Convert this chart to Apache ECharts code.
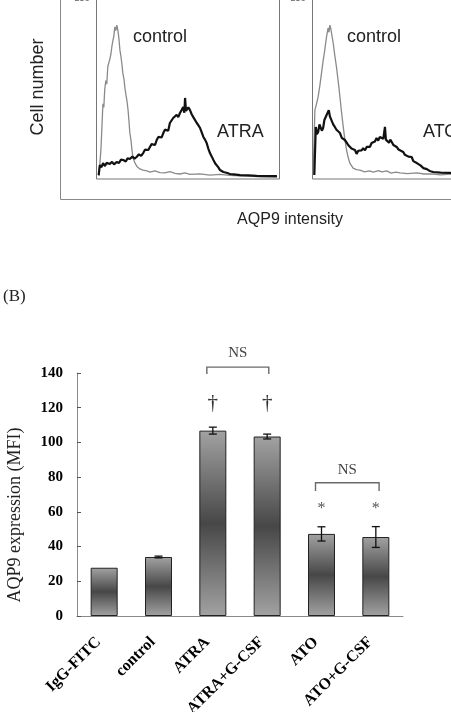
<!DOCTYPE html>
<html>
<head>
<meta charset="utf-8">
<style>
  html, body { margin: 0; padding: 0; background: #fff; }
  #chart { width: 451px; height: 712px; }
</style>
<script src="https://cdn.jsdelivr.net/npm/echarts@6.0.0/dist/echarts.min.js"></script>
</head>
<body>
<div id="chart"></div>
<script>
// (A) flow cytometry histograms: [intensity (% of panel), cell count (% of panel)]
const atraControl = [[1.3,1.7],[2.4,16],[3.0,30],[3.5,42],[4.0,40],[4.5,50],[5.1,55],[5.6,53],[6.2,63],[6.8,64],[7.3,67],[7.9,70],[8.4,74],[8.9,77],[9.5,80],[10.0,85],[10.6,83],[11.1,86],[11.7,83],[12.2,79],[12.8,72],[13.3,69],[13.9,64],[14.4,59],[15.0,56],[15.5,51],[16.1,47],[16.6,44],[17.2,39],[17.7,33],[18.2,26],[18.8,22],[19.3,17],[19.9,12],[21.0,9],[22.1,7],[23.7,5.6],[25.4,5],[27.5,4.5],[29.2,3.9],[31.9,4.5],[34.7,3.6],[37.4,3.4],[40.1,4.1],[42.9,3.2],[45.6,2.8],[48.3,3.4],[51.1,2.6],[56.5,2.9],[62.0,2.2],[67.4,2.6],[72.9,2.0],[78.4,1.7],[83.9,1.6],[89.4,1.2],[98.7,1.1]]
const atraTreated = [[1.2,2.2],[1.8,7.8],[2.6,6.5],[3.6,8.9],[4.6,7.2],[5.5,9.0],[7.3,8.4],[8.5,9.6],[9.6,8.2],[11.0,9.5],[12.3,9.0],[13.4,10.8],[14.6,10.6],[16.0,9.8],[17.0,11.6],[18.2,11.2],[19.6,12.5],[20.8,11.4],[21.9,12.3],[23.2,13.8],[24.4,12.9],[25.5,14.5],[26.5,16.4],[27.4,17.3],[28.3,16.2],[29.2,17.9],[30.1,19.5],[31.0,20.1],[32.0,19.0],[32.9,21.8],[33.8,23.5],[34.7,24.6],[35.6,23.2],[36.5,25.7],[37.4,27.6],[38.3,28.5],[39.2,27.0],[40.1,31.3],[41.0,32.4],[41.9,34.1],[42.8,33.0],[43.8,35.8],[44.7,34.6],[45.6,36.9],[46.5,38.5],[47.4,40.2],[48.0,37.0],[48.4,45.3],[48.9,38.0],[49.3,37.4],[50.2,40.0],[51.1,38.5],[52.0,36.2],[52.9,34.6],[53.8,33.8],[54.8,31.3],[55.7,30.0],[56.6,28.5],[57.5,26.0],[58.4,23.5],[59.3,22.0],[60.2,20.1],[61.1,17.0],[62.0,14.5],[63.0,12.5],[63.9,10.6],[64.8,8.8],[65.7,7.8],[66.6,6.5],[67.5,5.0],[69.3,3.9],[71.0,3.5],[73.0,2.8],[75.0,2.6],[78.5,2.2],[83.0,2.0],[87.6,1.7],[98.6,1.6]]
const atoControl = [[0.3,2.2],[0.8,20],[1.3,38.5],[2.2,42],[3.1,46],[4.0,52],[4.9,59],[5.8,66],[6.7,72],[7.6,79],[8.5,84.4],[9.0,82],[9.5,86],[10.0,84],[10.4,83.2],[11.3,76],[12.2,69],[13.1,62.6],[14.0,55],[15.0,45.8],[15.9,37],[16.8,29.1],[17.7,22],[18.6,16.2],[19.5,12],[20.4,8.9],[22.2,6.1],[24.0,5.2],[25.9,5.0],[28.5,4.0],[31.0,4.6],[33.2,3.9],[36.0,4.7],[38.0,4.0],[40.5,4.5],[43.0,3.3],[45.5,3.8],[47.8,3.4],[52.0,3.0],[57.0,3.4],[61.0,2.8],[66.0,2.8],[70.0,2.3],[75.2,2.8],[85.0,2.0],[100,1.6]]
const atoTreated = [[1.0,2.2],[1.8,29.1],[2.4,25.0],[3.1,26.3],[3.8,30.5],[4.4,31.3],[5.1,27.0],[5.8,28.5],[6.5,33.0],[7.1,32.0],[7.7,35.8],[8.3,36.5],[8.9,38.5],[9.5,35.0],[10.4,34.1],[11.3,30.5],[12.2,29.1],[13.1,27.5],[14.0,27.0],[15.0,25.7],[16.0,23.0],[17.0,23.5],[17.7,21.8],[18.6,20.5],[19.5,19.0],[20.4,17.9],[21.3,17.0],[22.2,16.4],[23.2,16.2],[24.1,14.0],[25.0,15.8],[25.9,15.1],[26.8,16.0],[27.7,17.2],[28.7,16.0],[29.6,17.9],[30.5,18.9],[31.4,18.0],[32.3,20.1],[33.2,19.5],[34.1,21.0],[35.0,22.9],[35.9,21.5],[36.8,23.5],[37.8,24.6],[38.7,22.5],[39.6,29.1],[40.1,22.0],[40.9,21.8],[41.8,20.2],[42.5,22.0],[43.3,20.7],[44.2,19.0],[45.1,19.5],[46.0,17.9],[47.0,16.5],[48.0,17.0],[49.6,15.1],[50.5,13.5],[51.5,14.0],[52.4,12.5],[53.3,11.7],[54.2,12.3],[55.1,10.0],[56.1,10.2],[57.0,8.9],[58.0,8.0],[59.0,7.6],[60.6,6.1],[62.5,5.5],[64.0,4.5],[66.0,3.9],[70.0,3.6],[75.2,3.4],[86.0,2.0],[100,1.5]]

// (B) AQP9 expression bars
const categories = ['IgG-FITC', 'control', 'ATRA', 'ATRA+G-CSF', 'ATO', 'ATO+G-CSF']
const mfi = [27.8, 34, 106.8, 103.4, 47.3, 45.5]
const mfiErr = [0, 0.5, 2, 1.4, 4.1, 6]
const yMin = 0
const yMax = 140
const yStep = 20

// significance marks: x in bar units (0 = first bar)
const markSymbols = ['†', '†', '*', '*']
const markX = [2, 3, 4, 5]
const markY = [122.7, 122.7, 61.6, 61.6]
const nsFrom = [1.89, 3.89]
const nsTo = [3.03, 5.06]
const nsTop = [143.4, 76.8]
const nsLeg = [139.4, 72]
const nsTextY = [151.5, 84.1]

const chart = echarts.init(document.getElementById('chart'))

const sans = 'Liberation Sans'
const serif = 'Liberation Serif'

const barGradient = new echarts.graphic.LinearGradient(0, 0, 0, 1, [
  { offset: 0, color: '#a2a2a2' },
  { offset: 0.5, color: '#474747' },
  { offset: 1, color: '#a2a2a2' },
])

const hiddenValueAxis = (gridIndex, max) => ({
  type: 'value',
  gridIndex,
  min: 0,
  max,
  show: false,
  splitLine: { show: false },
})

const histLine = (data, xi, color, width) => ({
  type: 'line',
  xAxisIndex: xi,
  yAxisIndex: xi,
  data,
  showSymbol: false,
  symbol: 'none',
  silent: true,
  lineStyle: { color, width },
  z: width > 1.5 ? 3 : 2,
})

const option = {
  animation: false,
  backgroundColor: '#fff',
  grid: [
    { left: 96.5, top: -1, width: 183, height: 180, show: true, borderColor: '#777', borderWidth: 1, outerBoundsMode: 'none' },
    { left: 312.5, top: -1, width: 183, height: 180, show: true, borderColor: '#777', borderWidth: 1, outerBoundsMode: 'none' },
    { left: 77, top: 373, width: 326, height: 243, outerBoundsMode: 'none' },
  ],
  xAxis: [
    hiddenValueAxis(0, 100),
    hiddenValueAxis(1, 100),
    {
      type: 'category',
      gridIndex: 2,
      data: categories,
      axisLine: { onZero: false, lineStyle: { color: '#8a8a8a', width: 1 } },
      axisTick: { show: false },
      axisLabel: {
        interval: 0,
        rotate: 45,
        margin: 18,
        padding: [0, 8, 0, 0],
        color: '#000',
        fontFamily: serif,
        fontWeight: 'bold',
        fontSize: 16,
      },
    },
    { type: 'value', gridIndex: 2, min: -0.5, max: 5.5, show: false },
  ],
  yAxis: [
    hiddenValueAxis(0, 100.6),
    hiddenValueAxis(1, 100.6),
    {
      type: 'value',
      gridIndex: 2,
      min: yMin,
      max: yMax,
      interval: yStep,
      axisLine: { show: true, onZero: false, lineStyle: { color: '#8a8a8a', width: 1 } },
      axisTick: { show: true, inside: true, length: 4, lineStyle: { color: '#555' } },
      splitLine: { show: false },
      axisLabel: {
        margin: 14,
        color: '#000',
        fontFamily: serif,
        fontWeight: 'bold',
        fontSize: 15,
      },
    },
  ],
  graphic: [
    { type: 'rect', shape: { x: 60.5, y: -20, width: 420, height: 219.5 }, style: { fill: 'none', stroke: '#888', lineWidth: 1 }, silent: true },
    { type: 'text', x: 82, y: -1, style: { text: '256', font: '9px ' + sans, fill: '#666', align: 'center', verticalAlign: 'middle' } },
    { type: 'text', x: 298, y: -1, style: { text: '256', font: '9px ' + sans, fill: '#666', align: 'center', verticalAlign: 'middle' } },
    { type: 'text', x: 38, y: 87, rotation: Math.PI / 2, style: { text: 'Cell number', font: '18px ' + sans, fill: '#222', align: 'center', verticalAlign: 'middle' } },
    { type: 'text', x: 133, y: 37, style: { text: 'control', font: '18px ' + sans, fill: '#222', verticalAlign: 'middle' } },
    { type: 'text', x: 217, y: 132, style: { text: 'ATRA', font: '18px ' + sans, fill: '#222', verticalAlign: 'middle' } },
    { type: 'text', x: 347, y: 37, style: { text: 'control', font: '18px ' + sans, fill: '#222', verticalAlign: 'middle' } },
    { type: 'text', x: 423, y: 132, style: { text: 'ATO', font: '18px ' + sans, fill: '#222', verticalAlign: 'middle' } },
    { type: 'text', x: 290, y: 220, style: { text: 'AQP9 intensity', font: '16px ' + sans, fill: '#222', align: 'center', verticalAlign: 'middle' } },
    { type: 'text', x: 3, y: 297, style: { text: '(B)', font: '17px ' + serif, fill: '#222', verticalAlign: 'middle' } },
    { type: 'text', x: 15, y: 515, rotation: Math.PI / 2, style: { text: 'AQP9 expression (MFI)', font: '18px ' + serif, fill: '#222', align: 'center', verticalAlign: 'middle' } },
  ],
  series: [
    histLine(atraControl, 0, '#8a8a8a', 1.3),
    histLine(atraTreated, 0, '#111', 2.2),
    histLine(atoControl, 1, '#8a8a8a', 1.3),
    histLine(atoTreated, 1, '#111', 2.2),
    {
      name: 'AQP9',
      type: 'bar',
      xAxisIndex: 2,
      yAxisIndex: 2,
      data: mfi,
      barWidth: 27,
      itemStyle: { color: barGradient, borderColor: '#222', borderWidth: 1 },
    },
    {
      type: 'custom',
      xAxisIndex: 2,
      yAxisIndex: 2,
      data: mfi.map((v, i) => [i, v, mfiErr[i]]),
      z: 5,
      renderItem: (params, api) => {
        const i = api.value(0)
        const v = api.value(1)
        const e = api.value(2)
        if (!e) return null
        const hi = api.coord([i, v + e])
        const lo = api.coord([i, v - e])
        const hw = 4
        const st = { stroke: '#111', lineWidth: 1.3 }
        return {
          type: 'group',
          children: [
            { type: 'line', shape: { x1: hi[0], y1: hi[1], x2: lo[0], y2: lo[1] }, style: st },
            { type: 'line', shape: { x1: hi[0] - hw, y1: hi[1], x2: hi[0] + hw, y2: hi[1] }, style: st },
            { type: 'line', shape: { x1: lo[0] - hw, y1: lo[1], x2: lo[0] + hw, y2: lo[1] }, style: st },
          ],
        }
      },
    },
    {
      type: 'custom',
      xAxisIndex: 3,
      yAxisIndex: 2,
      clip: false,
      data: nsFrom.map((f, i) => [f, nsTo[i], nsTop[i], nsLeg[i], nsTextY[i]]),
      renderItem: (params, api) => {
        const a = api.coord([api.value(0), api.value(3)])
        const b = api.coord([api.value(0), api.value(2)])
        const c = api.coord([api.value(1), api.value(2)])
        const d = api.coord([api.value(1), api.value(3)])
        const t = api.coord([(api.value(0) + api.value(1)) / 2, api.value(4)])
        return {
          type: 'group',
          children: [
            { type: 'polyline', shape: { points: [a, b, c, d] }, style: { stroke: '#6a6a6a', lineWidth: 1.4, fill: 'none' } },
            { type: 'text', x: t[0], y: t[1], style: { text: 'NS', font: '15px ' + serif, fill: '#444', align: 'center', verticalAlign: 'middle' } },
          ],
        }
      },
    },
    {
      type: 'custom',
      xAxisIndex: 3,
      yAxisIndex: 2,
      clip: false,
      data: markX.map((x, i) => [x, markY[i], i]),
      renderItem: (params, api) => {
        const p = api.coord([api.value(0), api.value(1)])
        const sym = markSymbols[api.value(2)]
        return {
          type: 'text',
          x: p[0],
          y: p[1],
          style: {
            text: sym,
            font: (sym === '†' ? '21px ' : '16px ') + serif,
            fill: sym === '*' ? '#555' : '#333',
            align: 'center',
            verticalAlign: 'middle',
          },
        }
      },
    },
  ],
}

chart.setOption(option)
</script>
</body>
</html>
